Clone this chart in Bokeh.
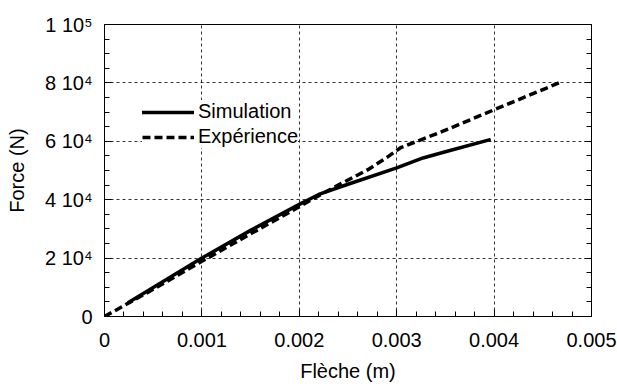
from bokeh.plotting import figure
from bokeh.models import (SingleIntervalTicker, LinearAxis, Legend, LegendItem, Range1d,
                          CustomJSTickFormatter)
from bokeh.embed import file_html
from bokeh.resources import INLINE

# Data
sim_x = [0.00025, 0.0005, 0.001, 0.0015, 0.002, 0.0022, 0.0025, 0.003, 0.00327, 0.0035, 0.00395]
sim_y = [4900, 9900, 20000, 29500, 38400, 41800, 45300, 50900, 54300, 56400, 60500]

exp_x = [0, 0.0005, 0.001, 0.0015, 0.002, 0.0022, 0.0024, 0.0027, 0.0029, 0.00304, 0.0035, 0.004, 0.00468]
exp_y = [0, 9300, 18900, 28300, 37600, 41400, 45000, 50200, 54500, 57800, 63800, 70800, 80200]

x_ticks = [0, 0.001, 0.002, 0.003, 0.004, 0.005]
x_tick_labels = ["0", "0.001", "0.002", "0.003", "0.004", "0.005"]
y_ticks = [0, 20000, 40000, 60000, 80000, 100000]
y_tick_labels = ["0", "2 10\u2074", "4 10\u2074", "6 10\u2074", "8 10\u2074", "1 10\u2075"]

FONT = "Liberation Sans"
FS = "20px"

p = figure(width=617, height=387, output_backend="svg", toolbar_location=None,
           x_range=Range1d(0, 0.005), y_range=Range1d(0, 100000),
           min_border_left=104, min_border_right=26, min_border_top=24, min_border_bottom=71,
           x_axis_label="Flèche (m)", y_axis_label="Force (N)")
p.background_fill_color = "white"
p.border_fill_color = "white"
p.outline_line_color = "black"
p.outline_line_width = 1

p.xaxis.ticker = SingleIntervalTicker(interval=0.001, num_minor_ticks=5)
p.yaxis.ticker = SingleIntervalTicker(interval=20000, num_minor_ticks=4)
p.xaxis.major_label_overrides = {t: l for t, l in zip(x_ticks, x_tick_labels)}
p.yaxis.major_label_overrides = {t: l for t, l in zip(y_ticks, y_tick_labels)}

for ax in (p.xaxis[0], p.yaxis[0]):
    ax.major_tick_in = 7
    ax.major_tick_out = 0
    ax.minor_tick_in = 5
    ax.minor_tick_out = 0
    ax.axis_line_color = "black"
    ax.major_tick_line_color = "black"
    ax.minor_tick_line_color = "black"
    ax.major_label_text_font = FONT
    ax.major_label_text_font_size = FS
    ax.major_label_text_color = "black"
    ax.axis_label_text_font = FONT
    ax.axis_label_text_font_size = FS
    ax.axis_label_text_font_style = "normal"
    ax.axis_label_text_color = "black"

p.xaxis.major_label_standoff = 16
p.yaxis.major_label_standoff = 12
p.xaxis.axis_label_standoff = 10
p.yaxis.axis_label_standoff = 14

right = LinearAxis(ticker=SingleIntervalTicker(interval=20000, num_minor_ticks=4),
                   formatter=CustomJSTickFormatter(code="return '';"),
                   major_tick_in=7, major_tick_out=0,
                   minor_tick_in=5, minor_tick_out=0, axis_line_color="black",
                   major_label_standoff=0)
p.add_layout(right, "right")

p.xgrid.grid_line_color = "black"
p.ygrid.grid_line_color = "black"
p.xgrid.grid_line_dash = "3 3"
p.ygrid.grid_line_dash = "3 3"
p.xgrid.grid_line_width = 1
p.ygrid.grid_line_width = 1
p.xgrid.grid_line_alpha = 0.8
p.ygrid.grid_line_alpha = 0.8

r_sim = p.line(sim_x, sim_y, line_color="black", line_width=3.5, line_cap="round", line_join="round")
r_exp = p.line(exp_x, exp_y, line_color="black", line_width=3.5, line_dash="8 4", line_join="round")

legend = Legend(items=[LegendItem(label="Simulation", renderers=[r_sim]),
                       LegendItem(label="Expérience", renderers=[r_exp])],
                location=(38, 168), orientation="vertical",
                glyph_width=52, glyph_height=22, padding=12, margin=0, spacing=2,
                label_standoff=4, label_text_font=FONT, label_text_font_size=FS,
                label_text_color="black", border_line_color=None,
                background_fill_color="white", background_fill_alpha=1.0)
p.add_layout(legend, "center")

open("out.html", "w").write(file_html(p, INLINE))
